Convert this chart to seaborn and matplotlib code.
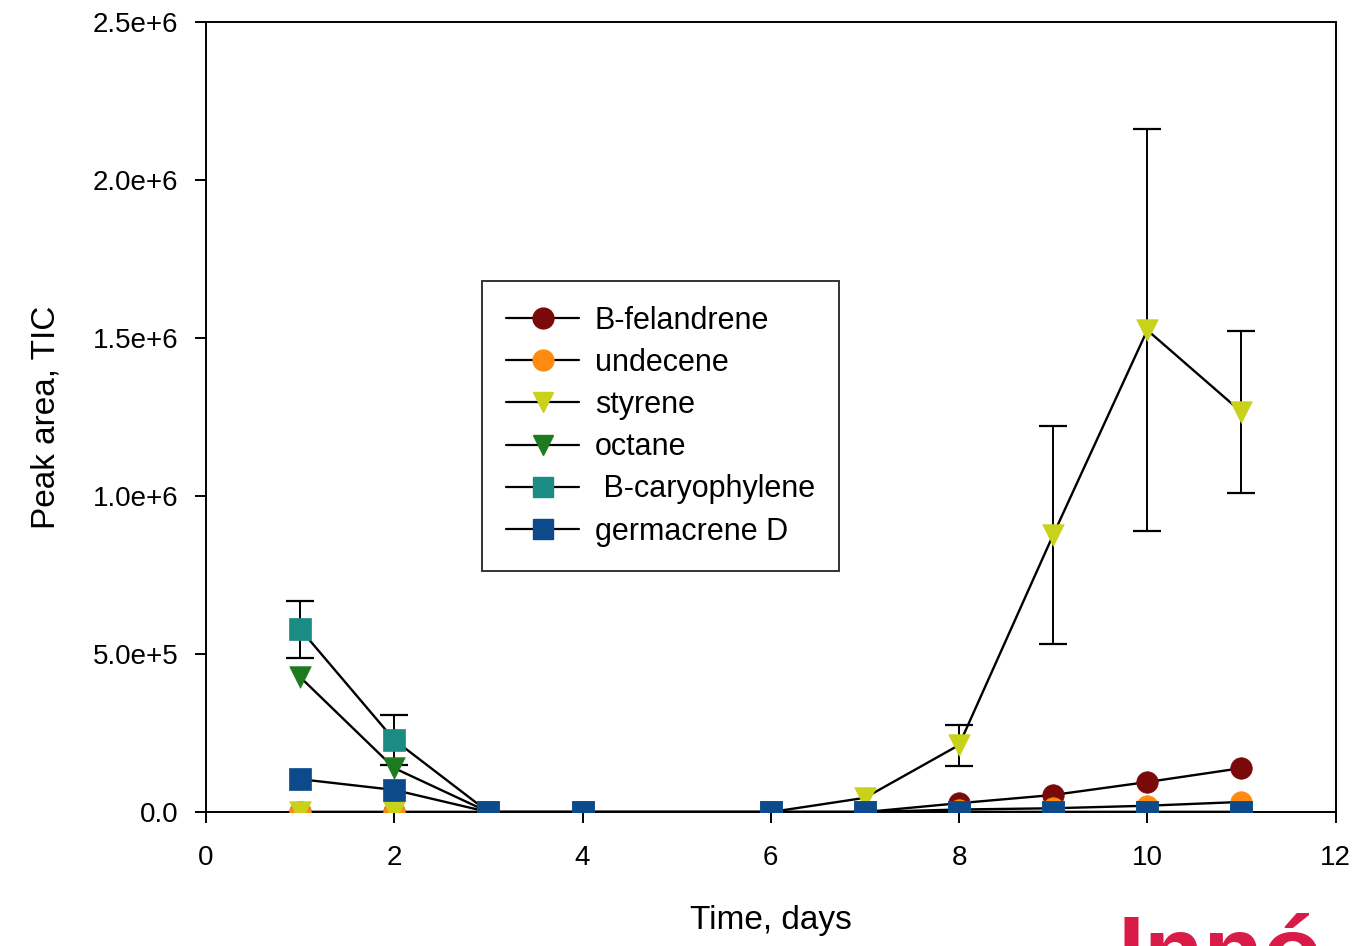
import numpy as np
import pandas as pd
import matplotlib
matplotlib.use("Agg")
import matplotlib.pyplot as plt
import seaborn as sns
from matplotlib.lines import Line2D

# Data (peak area, TIC)
days = [1, 2, 3, 4, 6, 7, 8, 9, 10, 11]
felandrene = [0, 0, 0, 0, 0, 0, 0.028e6, 0.054e6, 0.095e6, 0.139e6]
undecene = [0, 0, 0, 0, 0, 0, 0.008e6, 0.012e6, 0.020e6, 0.032e6]
styrene = [0, 0, 0, 0, 0, 0.045e6, 0.212e6, 0.877e6, 1.525e6, 1.266e6]
octane = [0.427e6, 0.139e6, 0, 0, 0, 0, 0, 0, 0, 0]
caryophylene = [0.579e6, 0.228e6, 0, 0, 0, 0, 0, 0, 0, 0]
germacrene = [0.104e6, 0.070e6, 0, 0, 0, 0, 0, 0, 0, 0]

styrene_err = [0, 0, 0, 0, 0, 0, 0.065e6, 0.345e6, 0.635e6, 0.255e6]
caryophylene_err = [0.09e6, 0.08e6, 0, 0, 0, 0, 0, 0, 0, 0]

names = ["B-felandrene", "undecene", "styrene", "octane", " B-caryophylene", "germacrene D"]
series = [felandrene, undecene, styrene, octane, caryophylene, germacrene]
errors = [None, None, styrene_err, None, caryophylene_err, None]
colors = ["#7a0a0a", "#ff8a10", "#c8d21a", "#1e7a1e", "#1a8c84", "#0d4a8c"]
markers = ["o", "o", "v", "v", "s", "s"]

sns.set_style("ticks")
plt.rcParams["font.family"] = ["Liberation Sans", "DejaVu Sans"]
plt.rcParams["text.color"] = "black"
plt.rcParams["axes.labelcolor"] = "black"
plt.rcParams["xtick.color"] = "black"
plt.rcParams["ytick.color"] = "black"

fig = plt.figure(figsize=(13.6, 9.46), dpi=100)
ax = fig.add_axes([0.1515, 0.1416, 0.8305, 0.8351])

handles = []
for name, vals, err, col, mk in zip(names, series, errors, colors, markers):
    df = pd.DataFrame({"day": days, "area": vals})
    sns.lineplot(data=df, x="day", y="area", color="black", linewidth=1.7, ax=ax, zorder=2)
    if err is not None:
        e = np.array(err)
        m = e > 0
        ax.errorbar(np.array(days)[m], np.array(vals)[m], yerr=e[m], fmt="none",
                    ecolor="black", elinewidth=1.4, capsize=10, capthick=1.6, zorder=2)
    sns.scatterplot(data=df, x="day", y="area", color=col, marker=mk, s=240,
                    edgecolor=col, linewidth=0.5, ax=ax, zorder=3)
    handles.append(Line2D([0], [0], color="black", linewidth=1.6, marker=mk,
                          markersize=15, markerfacecolor=col, markeredgecolor=col))

ax.set_xlim(0, 12)
ax.set_ylim(0, 2.5e6)
ax.set_xticks([0, 2, 4, 6, 8, 10, 12])
ax.set_yticks([0, 0.5e6, 1.0e6, 1.5e6, 2.0e6, 2.5e6])
ax.set_yticklabels(["0.0", "5.0e+5", "1.0e+6", "1.5e+6", "2.0e+6", "2.5e+6"])
ax.tick_params(axis="both", labelsize=20, length=8, width=1.4, direction="out")
ax.tick_params(axis="x", pad=16)
ax.tick_params(axis="y", pad=12)
ax.set_xlabel("Time, days", fontsize=24, labelpad=24)
ax.set_ylabel("Peak area, TIC", fontsize=24, labelpad=22)
for sp in ax.spines.values():
    sp.set_linewidth(1.4)
    sp.set_color("black")

leg = ax.legend(handles, names, loc="upper left", bbox_to_anchor=(0.244, 0.672),
                fontsize=22, frameon=True, fancybox=False, edgecolor="black",
                handlelength=2.4, labelspacing=0.4, borderpad=0.8, handletextpad=0.5,
                borderaxespad=0)
leg.get_frame().set_linewidth(1.4)

# red watermark cut off at the bottom edge, as in the source image
fig.text(0.822, -0.04, "Innó", color="#d81b47", fontsize=70, fontweight="bold",
         ha="left", va="baseline")

fig.savefig("out.png", dpi=100)
